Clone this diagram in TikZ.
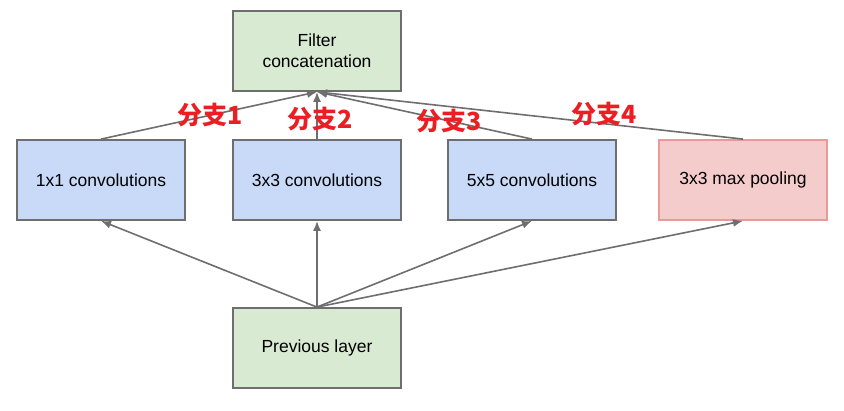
\documentclass[tikz,border=0pt]{standalone}
\usepackage{fontspec}
\setmainfont{Liberation Sans}
\newfontfamily\cjk{Noto Sans CJK SC}
\usepackage{tikz}
\usetikzlibrary{arrows.meta}

\definecolor{edgegray}{RGB}{110,110,110}
\definecolor{boxgreen}{RGB}{217,234,211}
\definecolor{boxblue}{RGB}{201,218,248}
\definecolor{boxpink}{RGB}{244,204,204}
\definecolor{poolred}{RGB}{234,153,153}
\definecolor{branchred}{RGB}{235,30,35}

\begin{document}
\begin{tikzpicture}[x=1pt, y=-1pt,
	layer/.style={draw=edgegray, line width=1.8pt, minimum width=168pt, minimum height=80pt, align=center, font=\fontsize{17.5}{21}\selectfont},
	link/.style={-{Latex[length=10pt,width=8pt]}, line width=1.6pt, color=edgegray},
	branch/.style={text=branchred, font=\cjk\bfseries\fontsize{25}{25}\selectfont}]
	\useasboundingbox (0,0) rectangle (844,410);
	\node[layer, fill=boxgreen] (concat) at (317,51) {Filter\\concatenation};
	\node[layer, fill=boxblue] (conv1) at (101,180) {1x1 convolutions};
	\node[layer, fill=boxblue] (conv3) at (317,180) {3x3 convolutions};
	\node[layer, fill=boxblue] (conv5) at (532,180) {5x5 convolutions};
	\node[layer, fill=boxpink, draw=poolred] (pool) at (743,180) {3x3 max pooling};
	\node[layer, fill=boxgreen] (prev) at (317,348) {Previous layer};
	\foreach \n in {conv1,conv3,conv5,pool}
	{
	\draw[link] (prev.north) -- (\n.south);
	\draw[link] (\n.north) -- (concat.south);
	}
	\foreach \x/\y/\k in {210/115/1, 320/119/2, 449/121/3, 604/114/4}
	\node[branch] (branch\k) at (\x,\y) {分支\k};
\end{tikzpicture}
\end{document}
